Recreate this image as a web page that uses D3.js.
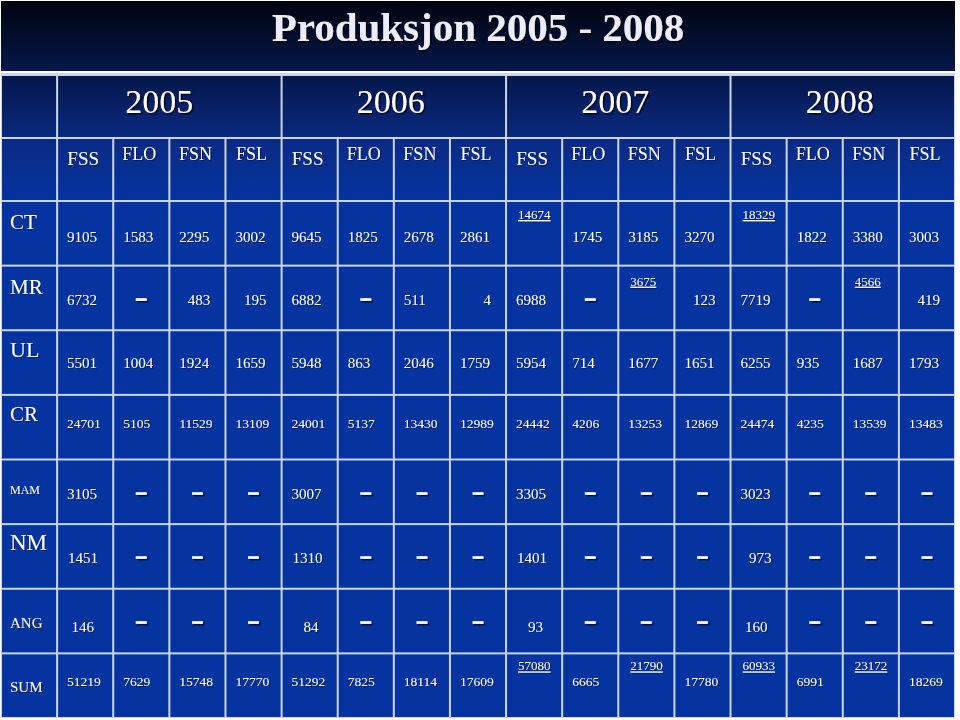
<!DOCTYPE html>
<html>
<head>
<meta charset="utf-8">
<script src="https://cdn.jsdelivr.net/npm/d3@7"></script>
<style>
  body { margin: 0; background: #fff; }
  svg { display: block; }
  text { font-family: "Liberation Serif", "DejaVu Serif", serif; fill: #fff; }
</style>
</head>
<body>
<div id="chart"></div>
<script>
// table data
var title = 'Produksjon 2005 - 2008';
var years = ['2005', '2006', '2007', '2008'];
var subCols = ['FSS', 'FLO', 'FSN', 'FSL'];
var rowNames = ['CT', 'MR', 'UL', 'CR', 'MAM', 'NM', 'ANG', 'SUM'];

// null = dash
var ctValues  = [9105, 1583, 2295, 3002, 9645, 1825, 2678, 2861, 14674, 1745, 3185, 3270, 18329, 1822, 3380, 3003];
var mrValues  = [6732, null, 483, 195, 6882, null, 511, 4, 6988, null, 3675, 123, 7719, null, 4566, 419];
var ulValues  = [5501, 1004, 1924, 1659, 5948, 863, 2046, 1759, 5954, 714, 1677, 1651, 6255, 935, 1687, 1793];
var crValues  = [24701, 5105, 11529, 13109, 24001, 5137, 13430, 12989, 24442, 4206, 13253, 12869, 24474, 4235, 13539, 13483];
var mamValues = [3105, null, null, null, 3007, null, null, null, 3305, null, null, null, 3023, null, null, null];
var nmValues  = [1451, null, null, null, 1310, null, null, null, 1401, null, null, null, 973, null, null, null];
var angValues = [146, null, null, null, 84, null, null, null, 93, null, null, null, 160, null, null, null];
var sumValues = [51219, 7629, 15748, 17770, 51292, 7825, 18114, 17609, 57080, 6665, 21790, 17780, 60933, 6991, 23172, 18269];

// cells written underlined at the top of the cell (row|column)
var underlined = ['CT|8', 'CT|12', 'MR|10', 'MR|14', 'SUM|8', 'SUM|10', 'SUM|12', 'SUM|14'];

var tableValues = {
  CT: ctValues, MR: mrValues, UL: ulValues, CR: crValues,
  MAM: mamValues, NM: nmValues, ANG: angValues, SUM: sumValues
};

// per row look: label size/offset, value size/offset
var rowStyle = {
  CT:  {ls: 21, ly: 28, vs: 15, vy: 41, uy: 18},
  MR:  {ls: 21, ly: 28, vs: 15, vy: 39, uy: 20},
  UL:  {ls: 22, ly: 27, vs: 15, vy: 38},
  CR:  {ls: 21, ly: 26, vs: 13.5, vy: 33},
  MAM: {ls: 12, ly: 34, vs: 15, vy: 39},
  NM:  {ls: 23, ly: 26, vs: 15, vy: 39},
  ANG: {ls: 15, ly: 39, vs: 15, vy: 43},
  SUM: {ls: 15, ly: 39, vs: 13.5, vy: 33, uy: 17}
};

var width = 960, height = 720;

var svg = d3.select('#chart').append('svg')
  .attr('width', width)
  .attr('height', height);

var defs = svg.append('defs');

function gradient(id, y1, y2, c1, c2) {
  var g = defs.append('linearGradient')
    .attr('id', id)
    .attr('gradientUnits', 'userSpaceOnUse')
    .attr('x1', 0).attr('x2', 0)
    .attr('y1', y1).attr('y2', y2);
  g.append('stop').attr('offset', 0).attr('stop-color', c1);
  g.append('stop').attr('offset', 1).attr('stop-color', c2);
}
gradient('titleGrad', 1, 71, '#01040f', '#06184a');
gradient('yearGrad', 75, 138, '#05164a', '#0a2a80');
gradient('subGrad', 138, 201, '#0a2a82', '#0534a0');

var shadow = defs.append('filter').attr('id', 'shadow')
  .attr('x', '-20%').attr('y', '-30%').attr('width', '150%').attr('height', '180%');
shadow.append('feDropShadow')
  .attr('dx', 1.5).attr('dy', 1.5).attr('stdDeviation', 0.7)
  .attr('flood-color', '#000').attr('flood-opacity', 0.75);

var soft = defs.append('filter').attr('id', 'soft')
  .attr('x', '-20%').attr('y', '-30%').attr('width', '150%').attr('height', '180%');
soft.append('feDropShadow')
  .attr('dx', 1).attr('dy', 1).attr('stdDeviation', 0.5)
  .attr('flood-color', '#000').attr('flood-opacity', 0.45);

// scales
var x = d3.scaleBand()
  .domain(d3.range(17))
  .range([1, 955]);

var yHead = d3.scaleBand()
  .domain(['year', 'sub'])
  .range([75, 201]);

var y = d3.scaleBand()
  .domain(rowNames)
  .range([201, 718]);

var cw = x.bandwidth();

// title band
svg.append('rect')
  .attr('x', 1).attr('y', 1)
  .attr('width', 954).attr('height', 70)
  .attr('fill', 'url(#titleGrad)');

svg.append('text')
  .attr('x', 478).attr('y', 41)
  .attr('text-anchor', 'middle')
  .style('font-size', '41px')
  .style('font-weight', 'bold')
  .style('fill', '#ececfa')
  .attr('filter', 'url(#shadow)')
  .text(title);

// grid background (lines show through)
svg.append('rect')
  .attr('x', 1).attr('y', 73)
  .attr('width', 954).attr('height', 645)
  .attr('fill', '#c9d6ef');

// year row
var yearCells = [{label: '', c0: 0, n: 1}].concat(years.map(function(yr, i) {
  return {label: yr, c0: 1 + i * 4, n: 4};
}));

var yearG = svg.append('g').attr('class', 'year-row');
yearG.selectAll('rect')
  .data(yearCells)
  .enter().append('rect')
  .attr('x', function(d) { return x(d.c0) + 1; })
  .attr('y', yHead('year') + 1)
  .attr('width', function(d) { return cw * d.n - 2; })
  .attr('height', yHead.bandwidth() - 2)
  .attr('fill', 'url(#yearGrad)');

yearG.selectAll('text')
  .data(yearCells.filter(function(d) { return d.label; }))
  .enter().append('text')
  .attr('x', function(d, i) { return x(d.c0) + cw * d.n / 2 - (i === 0 ? 10 : 3); })
  .attr('y', yHead('year') + 38)
  .attr('text-anchor', 'middle')
  .style('font-size', '34px')
  .attr('filter', 'url(#shadow)')
  .text(function(d) { return d.label; });

// sub header row
var subCells = [{label: '', c: 0}];
years.forEach(function(yr, i) {
  subCells = subCells.concat(subCols.map(function(s, j) {
    return {label: s, c: 1 + i * 4 + j};
  }));
});

var subG = svg.append('g').attr('class', 'sub-row');
subG.selectAll('rect')
  .data(subCells)
  .enter().append('rect')
  .attr('x', function(d) { return x(d.c) + 1; })
  .attr('y', yHead('sub') + 1)
  .attr('width', cw - 2)
  .attr('height', yHead.bandwidth() - 2)
  .attr('fill', 'url(#subGrad)');

subG.selectAll('text')
  .data(subCells.filter(function(d) { return d.label; }))
  .enter().append('text')
  .attr('x', function(d) { return x(d.c) + cw / 2 - 2; })
  .attr('y', function(d) { return yHead('sub') + (d.label === 'FSS' ? 27 : 22); })
  .attr('text-anchor', 'middle')
  .style('font-size', function(d) { return d.label === 'FSS' ? '19px' : '18px'; })
  .attr('filter', 'url(#soft)')
  .text(function(d) { return d.label; });

// body cells
var cells = [];
rowNames.forEach(function(r) {
  cells.push({row: r, c: 0, label: r});
  tableValues[r].forEach(function(v, i) {
    cells.push({row: r, c: i + 1, col: i, value: v, under: underlined.indexOf(r + '|' + i) >= 0});
  });
});

var body = svg.append('g').attr('class', 'body');
body.selectAll('rect')
  .data(cells)
  .enter().append('rect')
  .attr('x', function(d) { return x(d.c) + 1; })
  .attr('y', function(d) { return y(d.row) + 1; })
  .attr('width', cw - 2)
  .attr('height', y.bandwidth() - 2)
  .attr('fill', '#0534a0');

// row labels
body.selectAll('text.label')
  .data(cells.filter(function(d) { return d.label; }))
  .enter().append('text')
  .attr('class', 'label')
  .attr('x', x(0) + 9)
  .attr('y', function(d) { return y(d.row) + rowStyle[d.row].ly; })
  .style('font-size', function(d) { return rowStyle[d.row].ls + 'px'; })
  .attr('filter', 'url(#soft)')
  .text(function(d) { return d.label; });

// where a number sits in its cell
function anchor(d) {
  var s = d.col % 4;
  if (d.under) return 'start';
  if (d.row === 'MR' && s >= 2 && d.value !== 511) return 'end';
  if ((d.row === 'ANG' || d.row === 'NM') && s === 0) return 'end';
  return 'start';
}
function valueX(d) {
  var a = anchor(d);
  if (d.under) return x(d.c) + 12;
  if (a === 'end') return x(d.c) + (d.row === 'ANG' ? 37 : 41);
  return x(d.c) + 10;
}

var numbers = cells.filter(function(d) { return !d.label && d.value != null; });
body.selectAll('text.value')
  .data(numbers)
  .enter().append('text')
  .attr('class', 'value')
  .attr('x', valueX)
  .attr('y', function(d) {
    var st = rowStyle[d.row];
    return y(d.row) + (d.under ? st.uy : st.vy);
  })
  .attr('text-anchor', anchor)
  .style('font-size', function(d) { return (d.under ? 13 : rowStyle[d.row].vs) + 'px'; })
  .style('text-decoration', function(d) { return d.under ? 'underline' : null; })
  .attr('filter', 'url(#soft)')
  .text(function(d) { return d.value; });

// dashes for empty cells
body.selectAll('text.dash')
  .data(cells.filter(function(d) { return !d.label && d.value == null; }))
  .enter().append('text')
  .attr('class', 'dash')
  .attr('x', function(d) { return x(d.c) + cw / 2; })
  .attr('y', function(d) { return y(d.row) + 38; })
  .attr('text-anchor', 'middle')
  .style('font-size', '19px')
  .style('font-weight', 'bold')
  .style('stroke', '#fff')
  .style('stroke-width', 1.2)
  .attr('filter', 'url(#shadow)')
  .text('–');
</script>
</body>
</html>
